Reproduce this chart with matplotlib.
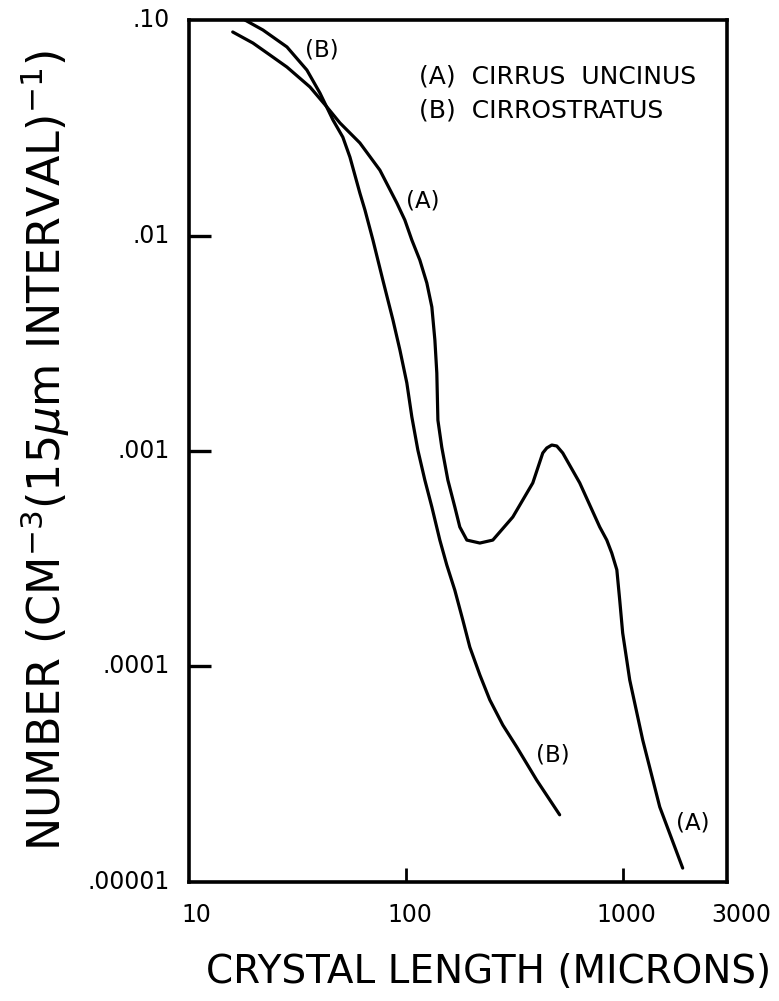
import matplotlib
matplotlib.use("Agg")
import matplotlib.pyplot as plt
from matplotlib.ticker import FixedLocator, NullLocator

# Curve (A) Cirrus uncinus: crystal length (microns) vs number
a_len = [15.9, 19.7, 23.6, 28.25, 36.06, 43.15, 49.55, 61.2, 75.7, 90.6, 98.6, 106.2,
         115.6, 124.5, 131.3, 135.6, 138.4, 140.0, 145.9, 155.6, 167.5, 176.6, 190.3,
         218.4, 250.6, 309.8, 382.9, 425.6, 444.2, 468.2, 493.7, 526.0, 629.8, 778.5,
         839.0, 884.5, 933.3, 962.0, 993.0, 1037.0, 1070.0, 1228.0, 1471.0, 1876.0]
a_num = [0.0880, 0.0782, 0.0688, 0.0605, 0.0489, 0.0395, 0.0333, 0.0269, 0.0201,
         0.01415, 0.0118, 0.00953, 0.00769, 0.00602, 0.00466, 0.00327, 0.00230,
         0.00139, 0.00104, 0.000733, 0.000550, 0.000444, 0.000386, 0.000374, 0.000386,
         0.000494, 0.000711, 0.000979, 0.001033, 0.001066, 0.001055, 0.000979, 0.000711,
         0.000444, 0.000386, 0.000336, 0.000281, 0.000204, 0.000143, 0.000107,
         0.0000866, 0.0000456, 0.0000223, 0.0000116]

# Curve (B) Cirrostratus
b_len = [18.1, 21.9, 28.25, 34.9, 40.1, 46.0, 51.1, 55.1, 61.2, 64.6, 70.3, 78.1,
         86.9, 93.6, 100.7, 106.2, 113.2, 121.9, 131.3, 142.9, 153.8, 167.5, 182.4,
         196.4, 218.4, 242.7, 278.6, 323.0, 399.0, 509.0]
b_num = [0.1, 0.0899, 0.0750, 0.0586, 0.0458, 0.0344, 0.0286, 0.0231, 0.01575,
         0.01313, 0.00953, 0.00621, 0.00406, 0.00294, 0.00207, 0.00144, 0.00101,
         0.000733, 0.000550, 0.000386, 0.000296, 0.000226, 0.000164, 0.000123,
         0.0000914, 0.0000700, 0.0000535, 0.0000423, 0.0000297, 0.0000205]

x_ticks = [10, 100, 1000, 3000]
x_tick_labels = ["10", "100", "1000", "3000"]
y_ticks = [0.1, 0.01, 0.001, 0.0001, 0.00001]
y_tick_labels = [".10", ".01", ".001", ".0001", ".00001"]

legend_lines = ["(A)  CIRRUS  UNCINUS", "(B)  CIRROSTRATUS"]

plt.rcParams['font.family'] = ['DejaVu Sans']
fig = plt.figure(figsize=(7.79, 10.01), dpi=100)
ax = fig.add_axes([0.2426, 0.1189, 0.6906, 0.8611])
ax.set_xscale('log')
ax.set_yscale('log')
ax.set_xlim(10, 3000)
ax.set_ylim(1e-5, 0.1)

lw = 2.3
ax.plot(a_len, a_num, color='black', lw=lw, solid_capstyle='round', solid_joinstyle='round')
ax.plot(b_len, b_num, color='black', lw=lw, solid_capstyle='round', solid_joinstyle='round')

for s in ax.spines.values():
    s.set_linewidth(2.6)

ax.xaxis.set_major_locator(FixedLocator([100, 1000]))
ax.xaxis.set_minor_locator(NullLocator())
ax.yaxis.set_major_locator(FixedLocator(y_ticks[1:4]))
ax.yaxis.set_minor_locator(NullLocator())
ax.tick_params(axis='x', direction='in', length=10, width=2, labelbottom=False)
ax.tick_params(axis='y', direction='in', length=16, width=2.4, labelleft=False)

tfs = 17
x_offsets = [5, 3, 2, 10]
for xv, lab, dx in zip(x_ticks, x_tick_labels, x_offsets):
    ax.annotate(lab, xy=(xv, 1e-5), xycoords='data', xytext=(dx, -24), textcoords='offset points',
                ha='center', va='center', fontsize=tfs)
for yv, lab in zip(y_ticks, y_tick_labels):
    ax.annotate(lab, xy=(10, yv), xycoords='data', xytext=(-14, 0), textcoords='offset points',
                ha='right', va='center', fontsize=tfs)

fs_lab = 16.5
ax.annotate("(B)", xy=(0.247, 0.965), xycoords='axes fraction', ha='center', va='center', fontsize=fs_lab)
ax.annotate("(A)", xy=(0.434, 0.79), xycoords='axes fraction', ha='center', va='center', fontsize=fs_lab)
ax.annotate("(B)", xy=(0.677, 0.147), xycoords='axes fraction', ha='center', va='center', fontsize=fs_lab)
ax.annotate("(A)", xy=(0.937, 0.068), xycoords='axes fraction', ha='center', va='center', fontsize=fs_lab)

ax.annotate(legend_lines[0], xy=(0.4275, 0.935), xycoords='axes fraction', ha='left', va='center', fontsize=18)
ax.annotate(legend_lines[1], xy=(0.4275, 0.895), xycoords='axes fraction', ha='left', va='center', fontsize=18)

fig.text(0.627, 0.029, "CRYSTAL LENGTH (MICRONS)", ha='center', va='center', fontsize=28)
fig.text(0.058, 0.55, r"NUMBER (CM$^{-3}$(15$\mu$m INTERVAL)$^{-1}$)", ha='center', va='center',
         fontsize=32, rotation=90)

fig.savefig("out.png", dpi=100)
